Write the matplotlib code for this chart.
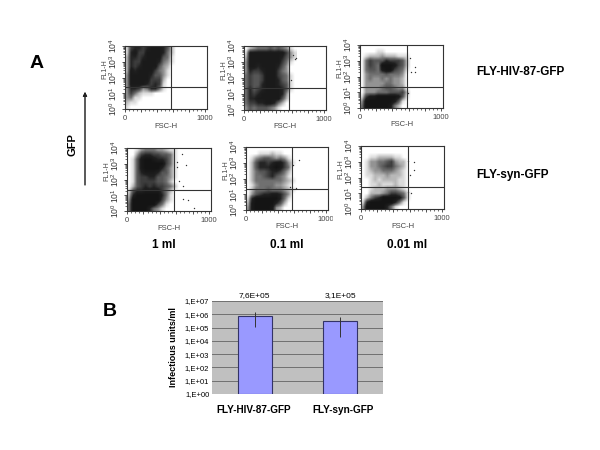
import matplotlib
matplotlib.use('Agg')
import matplotlib.pyplot as plt
import numpy as np
from matplotlib.colors import LinearSegmentedColormap
from matplotlib.patches import Rectangle

plt.rcParams['font.family'] = ['Liberation Sans', 'DejaVu Sans']
plt.rcParams['mathtext.fontset'] = 'custom'
plt.rcParams['mathtext.rm'] = 'Liberation Sans'
plt.rcParams['mathtext.default'] = 'rm'

# dot density, 0 = empty, 9 = solid
# rows go top to bottom (10^4 to 10^0), columns are FSC-H 0 to 650 in steps of 50
hiv_1ml = ["1677678887520", "1786688887420", "2776788885410", "2766888874310",
           "2767888853200", "2878888643100", "3888887553100", "3888886662000",
           "3888876761000", "3776347741000", "3642111000000", "3411000000000",
           "2110000000000", "1000000000000"]
hiv_01ml = ["0234445454310", "1888888888631", "2888888887531", "3888888886410",
            "3887888875300", "3766788864300", "4655688865410", "4655688875410",
            "4655788876510", "4756788887510", "4767888887300", "4778888885200",
            "4667788742000", "3545554310000"]
hiv_001ml = ["0000000000000", "0000110000000", "0122232221110", "0465557666520",
             "0465499986520", "0455489965410", "0344445444300", "0343343433200",
             "0333334433200", "0333345543300", "0333444555620", "1688999998510",
             "3999999985100", "4999999842000"]
syn_1ml = ["0013444332110", "0036776655410", "0158998776410", "0158999996410",
           "0158999975310", "0157888755310", "0156677554310", "0156666554200",
           "0256767665420", "1577888864200", "2799999974100", "3999999963100",
           "4999999641000", "4999974310000"]
syn_01ml = ["0000000000000", "0001112110000", "0134554343100", "0257767886310",
            "0257778986400", "0245567764200", "0244567543100", "0244444443210",
            "0134444332100", "0244454443210", "0356778875300", "1799999974100",
            "2899999752000", "3899998320000"]
syn_001ml = ["0000000000000", "0000000000000", "0011222211000", "0133445632200",
             "0133456643200", "0123344432100", "0112223222100", "0012122221100",
             "0011211121100", "0012223332100", "0022234665410", "0246799998510",
             "1799999974100", "3999997410000"]

# single stray events: FSC-H, log10 FL1-H
hiv_1ml_x, hiv_1ml_y = [], []
hiv_01ml_x = [611, 640, 590, 652]
hiv_01ml_y = [3.45, 3.19, 1.85, 3.28]
hiv_001ml_x = [611, 673, 673, 632, 590]
hiv_001ml_y = [3.2, 2.6, 2.3, 2.3, 0.95]
syn_1ml_x = [673, 714, 611, 632, 681, 681, 747, 817, 611]
syn_1ml_y = [3.6, 2.9, 2.77, 1.9, 1.6, 0.74, 0.7, 0.17, 3.08]
syn_01ml_x = [656, 586, 628, 545]
syn_01ml_y = [3.2, 2.86, 1.39, 1.45]
syn_001ml_x = [660, 578, 648, 619, 578, 599]
syn_001ml_y = [2.99, 3.03, 2.46, 0.99, 1.09, 2.15]

# bar chart values
vectors = ['FLY-HIV-87-GFP', 'FLY-syn-GFP']
titers = [7.6e5, 3.1e5]
titer_labels = ['7,6E+05', '3,1E+05']
err_low = [1.15e5, 2e4]
err_high = [1.4e6, 6.2e5]
titer_ticks = ['1,E+00', '1,E+01', '1,E+02', '1,E+03', '1,E+04', '1,E+05', '1,E+06', '1,E+07']

W, H = 600, 450
fig = plt.figure(figsize=(6, 4.5), dpi=100)
cmap = LinearSegmentedColormap.from_list(
    'dots', [(0, '#ffffff'), (0.15, '#cfcfcf'), (0.45, '#6e6e6e'), (0.8, '#202020'), (1, '#141414')])


# axes from pixel box, y measured from the top like in the picture
def px_axes(x0, y0, x1, y1):
    return fig.add_axes([x0 / W, 1 - y1 / H, (x1 - x0) / W, (y1 - y0) / H])


def px_text(x, y, s, **kw):
    kw.setdefault('ha', 'center')
    kw.setdefault('va', 'center')
    fig.text(x / W, 1 - y / H, s, **kw)


def dot_plot(box, quad, grid, sx, sy):
    x0, y0, x1, y1 = box
    ax = px_axes(x0, y0, x1, y1)
    dens = np.array([[int(c) for c in row] for row in grid])
    ax.imshow(dens, cmap=cmap, vmin=0, vmax=9, extent=[0, 650, 0, 4],
              aspect='auto', interpolation='bilinear')
    ax.scatter(sx, sy, s=1.0, color='#333333', linewidths=0)
    ax.axvline(quad[0], color='#333333', lw=0.8)
    ax.axhline(quad[1], color='#333333', lw=0.8)
    ax.set_xlim(0, 1024)
    ax.set_ylim(0, 4)
    ax.set_xticks([0, 200, 400, 600, 800, 1000])
    ax.set_xticks(np.arange(0, 1024, 50), minor=True)
    ax.set_xticklabels(['0', '', '', '', '', '1000'], fontsize=5.5, color='#444444')
    ax.set_yticks([0, 1, 2, 3, 4])
    ax.set_yticks([d + np.log10(m) for d in range(4) for m in range(2, 10)], minor=True)
    ax.set_yticklabels(['$10^{%d}$' % d for d in range(5)], fontsize=6.2, rotation=90,
                       va='center', color='#333333')
    ax.tick_params(axis='both', which='major', length=2.5, width=0.6, pad=1.5, color='#333333')
    ax.tick_params(axis='both', which='minor', length=1.3, width=0.5, color='#333333')
    for s in ax.spines.values():
        s.set_linewidth(0.8)
        s.set_color('#333333')
    px_text((x0 + x1) / 2, y1 + 17, 'FSC-H', fontsize=5.5, color='#444444')
    px_text(x0 - 20, (y0 + y1) / 2 - 8, 'FL1-H', fontsize=5, rotation=90, color='#444444')


dot_plot((125, 46, 207, 109), (575, 1.4), hiv_1ml, hiv_1ml_x, hiv_1ml_y)
dot_plot((244, 46, 326, 110), (565, 1.4), hiv_01ml, hiv_01ml_x, hiv_01ml_y)
dot_plot((360, 45, 443, 108), (580, 1.35), hiv_001ml, hiv_001ml_x, hiv_001ml_y)
dot_plot((127, 148, 211, 211), (575, 1.33), syn_1ml, syn_1ml_x, syn_1ml_y)
dot_plot((246, 147, 328, 210), (575, 1.33), syn_01ml, syn_01ml_x, syn_01ml_y)
dot_plot((361, 146, 444, 209), (580, 1.4), syn_001ml, syn_001ml_x, syn_001ml_y)

# the source image cuts off the middle column's last tick label
fig.add_artist(Rectangle((331.5 / W, 1 - 124 / H), 7 / W, 12 / H, color='white',
                         transform=fig.transFigure))
fig.add_artist(Rectangle((333 / W, 1 - 225 / H), 7 / W, 12 / H, color='white',
                         transform=fig.transFigure))

# arrow next to the GFP label
fig.add_artist(plt.annotate('', xy=(85 / W, 1 - 92 / H), xytext=(85 / W, 1 - 185 / H),
                            xycoords='figure fraction', textcoords='figure fraction',
                            arrowprops=dict(arrowstyle='-|>', color='#222222', lw=0.7,
                                            mutation_scale=6, shrinkA=0, shrinkB=0)))
px_text(73, 145, 'GFP', fontsize=8, fontweight='bold', rotation=90)
px_text(37, 64, 'A', fontsize=14, fontweight='bold')
px_text(110, 311, 'B', fontsize=14, fontweight='bold')
px_text(476, 72, 'FLY-HIV-87-GFP', fontsize=8.5, fontweight='bold', ha='left')
px_text(476, 175, 'FLY-syn-GFP', fontsize=8.5, fontweight='bold', ha='left')
px_text(164, 245, '1 ml', fontsize=8.5, fontweight='bold')
px_text(287, 245, '0.1 ml', fontsize=8.5, fontweight='bold')
px_text(407, 245, '0.01 ml', fontsize=8.5, fontweight='bold')

# bar chart
bx = px_axes(212, 301, 383, 394)
pos = [0.25, 0.75]
bx.set_facecolor('#c0c0c0')
bx.set_yscale('log')
bx.bar(pos, titers, width=0.2, bottom=1, color='#9999ff', edgecolor='#333366', linewidth=0.8, zorder=3)
bx.vlines(pos, err_low, err_high, color='#333333', lw=0.7, zorder=4)
bx.set_xlim(0, 1)
bx.set_ylim(1, 1e7)
bx.set_yticks([10.0 ** i for i in range(8)])
bx.set_yticklabels(titer_ticks, fontsize=5.5)
bx.minorticks_off()
bx.yaxis.grid(True, color='#707070', lw=0.7, zorder=1)
bx.set_axisbelow(True)
bx.set_xticks([0.245, 0.765])
bx.set_xticklabels(vectors, fontsize=7.2, fontweight='bold')
bx.tick_params(axis='x', length=0, pad=8)
bx.tick_params(axis='y', length=0, pad=2)
for s in bx.spines.values():
    s.set_visible(False)
bx.set_ylabel('Infectious units/ml', fontsize=6.5, fontweight='bold', labelpad=5)
for p, lab in zip(pos, titer_labels):
    bx.text(p, 1.02, lab, transform=bx.get_xaxis_transform(), ha='center', va='bottom', fontsize=6)

fig.savefig('out.png', dpi=100)
